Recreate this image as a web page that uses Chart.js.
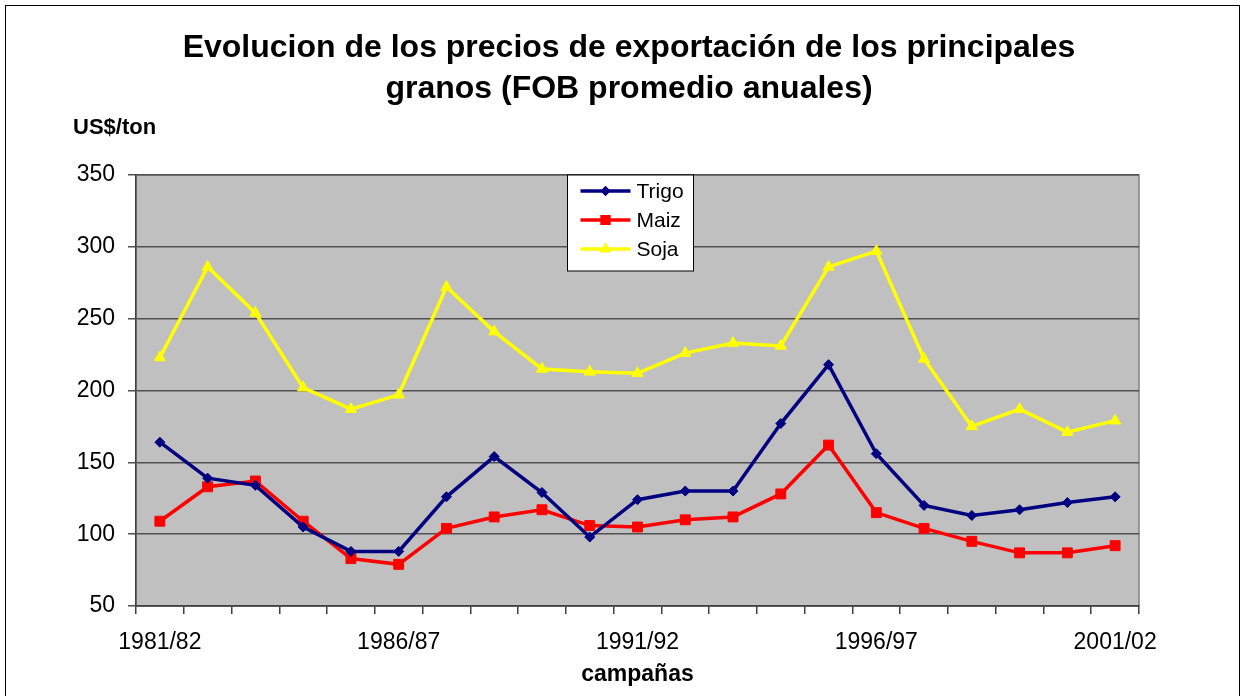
<!DOCTYPE html>
<html>
<head>
<meta charset="utf-8">
<script src="https://cdn.jsdelivr.net/npm/chart.js@4/dist/chart.umd.min.js"></script>
<style>
  body { margin: 0; background: #fff; }
  #wrap { width: 1245px; height: 696px; }
</style>
</head>
<body>
<div id="wrap"><canvas id="grafico" width="1245" height="696"></canvas></div>
<script>
// campañas y precios FOB (US$/ton)
const campanas = ['1981/82', '1982/83', '1983/84', '1984/85', '1985/86', '1986/87', '1987/88',
  '1988/89', '1989/90', '1990/91', '1991/92', '1992/93', '1993/94', '1994/95', '1995/96',
  '1996/97', '1997/98', '1998/99', '1999/00', '2000/01', '2001/02'];
const trigo = [164, 139, 134, 105, 88, 88, 126, 154, 129, 98, 124, 130, 130, 177, 218, 156, 120, 113, 117, 122, 126];
const maiz = [109, 133, 137, 109, 83, 79, 104, 112, 117, 106, 105, 110, 112, 128, 162, 115, 104, 95, 87, 87, 92];
const soja = [223, 286, 254, 202, 187, 197, 272, 241, 215, 213, 212, 226, 233, 231, 286, 297, 222, 175, 187, 171, 179];
const yTicks = [50, 100, 150, 200, 250, 300, 350];

const titulo = ['Evolucion de los precios de exportación de los principales', 'granos (FOB promedio anuales)'];
const unidad = 'US$/ton';

Chart.defaults.font.family = "'Liberation Sans', Arial, sans-serif";
Chart.defaults.color = '#000';

const fondo = {
  id: 'fondo',
  beforeDraw(chart) {
    const { ctx, chartArea: a } = chart;
    ctx.save();
    ctx.fillStyle = '#fff';
    ctx.fillRect(0, 0, chart.width, chart.height);
    ctx.strokeStyle = '#000';
    ctx.lineWidth = 1;
    ctx.strokeRect(5.5, 5.5, 1234, 700);
    ctx.fillStyle = '#c0c0c0';
    ctx.fillRect(a.left, a.top, a.right - a.left, a.bottom - a.top);
    ctx.strokeStyle = '#808080';
    ctx.lineWidth = 1.5;
    ctx.strokeRect(a.left, a.top, a.right - a.left, a.bottom - a.top);
    ctx.restore();
  },
  afterDraw(chart) {
    const { ctx, chartArea: a } = chart;
    ctx.save();
    // titulo
    ctx.fillStyle = '#000';
    ctx.textAlign = 'center';
    ctx.textBaseline = 'alphabetic';
    ctx.font = "bold 32px 'Liberation Sans', Arial, sans-serif";
    ctx.fillText(titulo[0], 629, 57);
    ctx.fillText(titulo[1], 629, 98);
    // unidad
    ctx.textAlign = 'left';
    ctx.font = "bold 22px 'Liberation Sans', Arial, sans-serif";
    ctx.fillText(unidad, 73, 134);

    // leyenda
    const bx = 567.5, by = a.top, bw = 126, bh = 96;
    ctx.fillStyle = '#fff';
    ctx.fillRect(bx, by, bw, bh);
    ctx.strokeStyle = '#000';
    ctx.lineWidth = 1;
    ctx.strokeRect(bx, by, bw, bh);
    ctx.font = "21px 'Liberation Sans', Arial, sans-serif";
    ctx.textBaseline = 'middle';
    chart.data.datasets.forEach((ds, i) => {
      const y = by + 16 + i * 29;
      ctx.strokeStyle = ds.borderColor;
      ctx.lineWidth = 3.5;
      ctx.beginPath();
      ctx.moveTo(bx + 13, y);
      ctx.lineTo(bx + 63, y);
      ctx.stroke();
      ctx.fillStyle = ds.backgroundColor;
      Chart.helpers.drawPoint(ctx, { pointStyle: ds.pointStyle, radius: ds.pointRadius, rotation: 0 }, bx + 38, y);
      ctx.fill();
      ctx.fillStyle = '#000';
      ctx.fillText(ds.label, bx + 69, y + 1);
    });
    ctx.restore();
  }
};

new Chart(document.getElementById('grafico'), {
  type: 'line',
  data: {
    labels: campanas,
    datasets: [
      { label: 'Trigo', data: trigo, borderColor: '#000080', backgroundColor: '#000080',
        pointStyle: 'rectRot', pointRadius: 5, borderWidth: 3.5, pointBorderWidth: 1 },
      { label: 'Maiz', data: maiz, borderColor: '#ff0000', backgroundColor: '#ff0000',
        pointStyle: 'rect', pointRadius: 7, borderWidth: 3.5, pointBorderWidth: 1 },
      { label: 'Soja', data: soja, borderColor: '#ffff00', backgroundColor: '#ffff00',
        pointStyle: 'triangle', pointRadius: 6.5, borderWidth: 3.5, pointBorderWidth: 1 }
    ]
  },
  options: {
    responsive: false,
    animation: false,
    events: [],
    layout: { padding: { top: 175, left: 0, right: 106, bottom: 0 } },
    elements: { line: { tension: 0 } },
    plugins: {
      legend: { display: false },
      title: { display: false },
      tooltip: { enabled: false }
    },
    scales: {
      x: {
        offset: true,
        grid: { offset: true, drawOnChartArea: false, tickLength: 8, color: '#404040', lineWidth: 1.5 },
        border: { color: '#404040', width: 1.5 },
        ticks: {
          autoSkip: false,
          maxRotation: 0,
          padding: 15,
          font: { size: 23 },
          callback: (v, i) => (i % 5 === 0 ? campanas[i] : '')
        },
        title: { display: true, text: 'campañas', font: { size: 23, weight: 'bold' }, padding: { top: 0, bottom: 8 } },
        afterFit: s => { s.height = 90; }
      },
      y: {
        min: yTicks[0],
        max: yTicks[yTicks.length - 1],
        afterBuildTicks: s => { s.ticks = yTicks.map(v => ({ value: v })); },
        grid: { color: '#505050', lineWidth: 1.5, tickLength: 8 },
        border: { color: '#404040', width: 1.5 },
        ticks: { padding: 13, font: { size: 23 } },
        afterFit: s => { s.width = 136; }
      }
    }
  },
  plugins: [fondo]
});
</script>
</body>
</html>
